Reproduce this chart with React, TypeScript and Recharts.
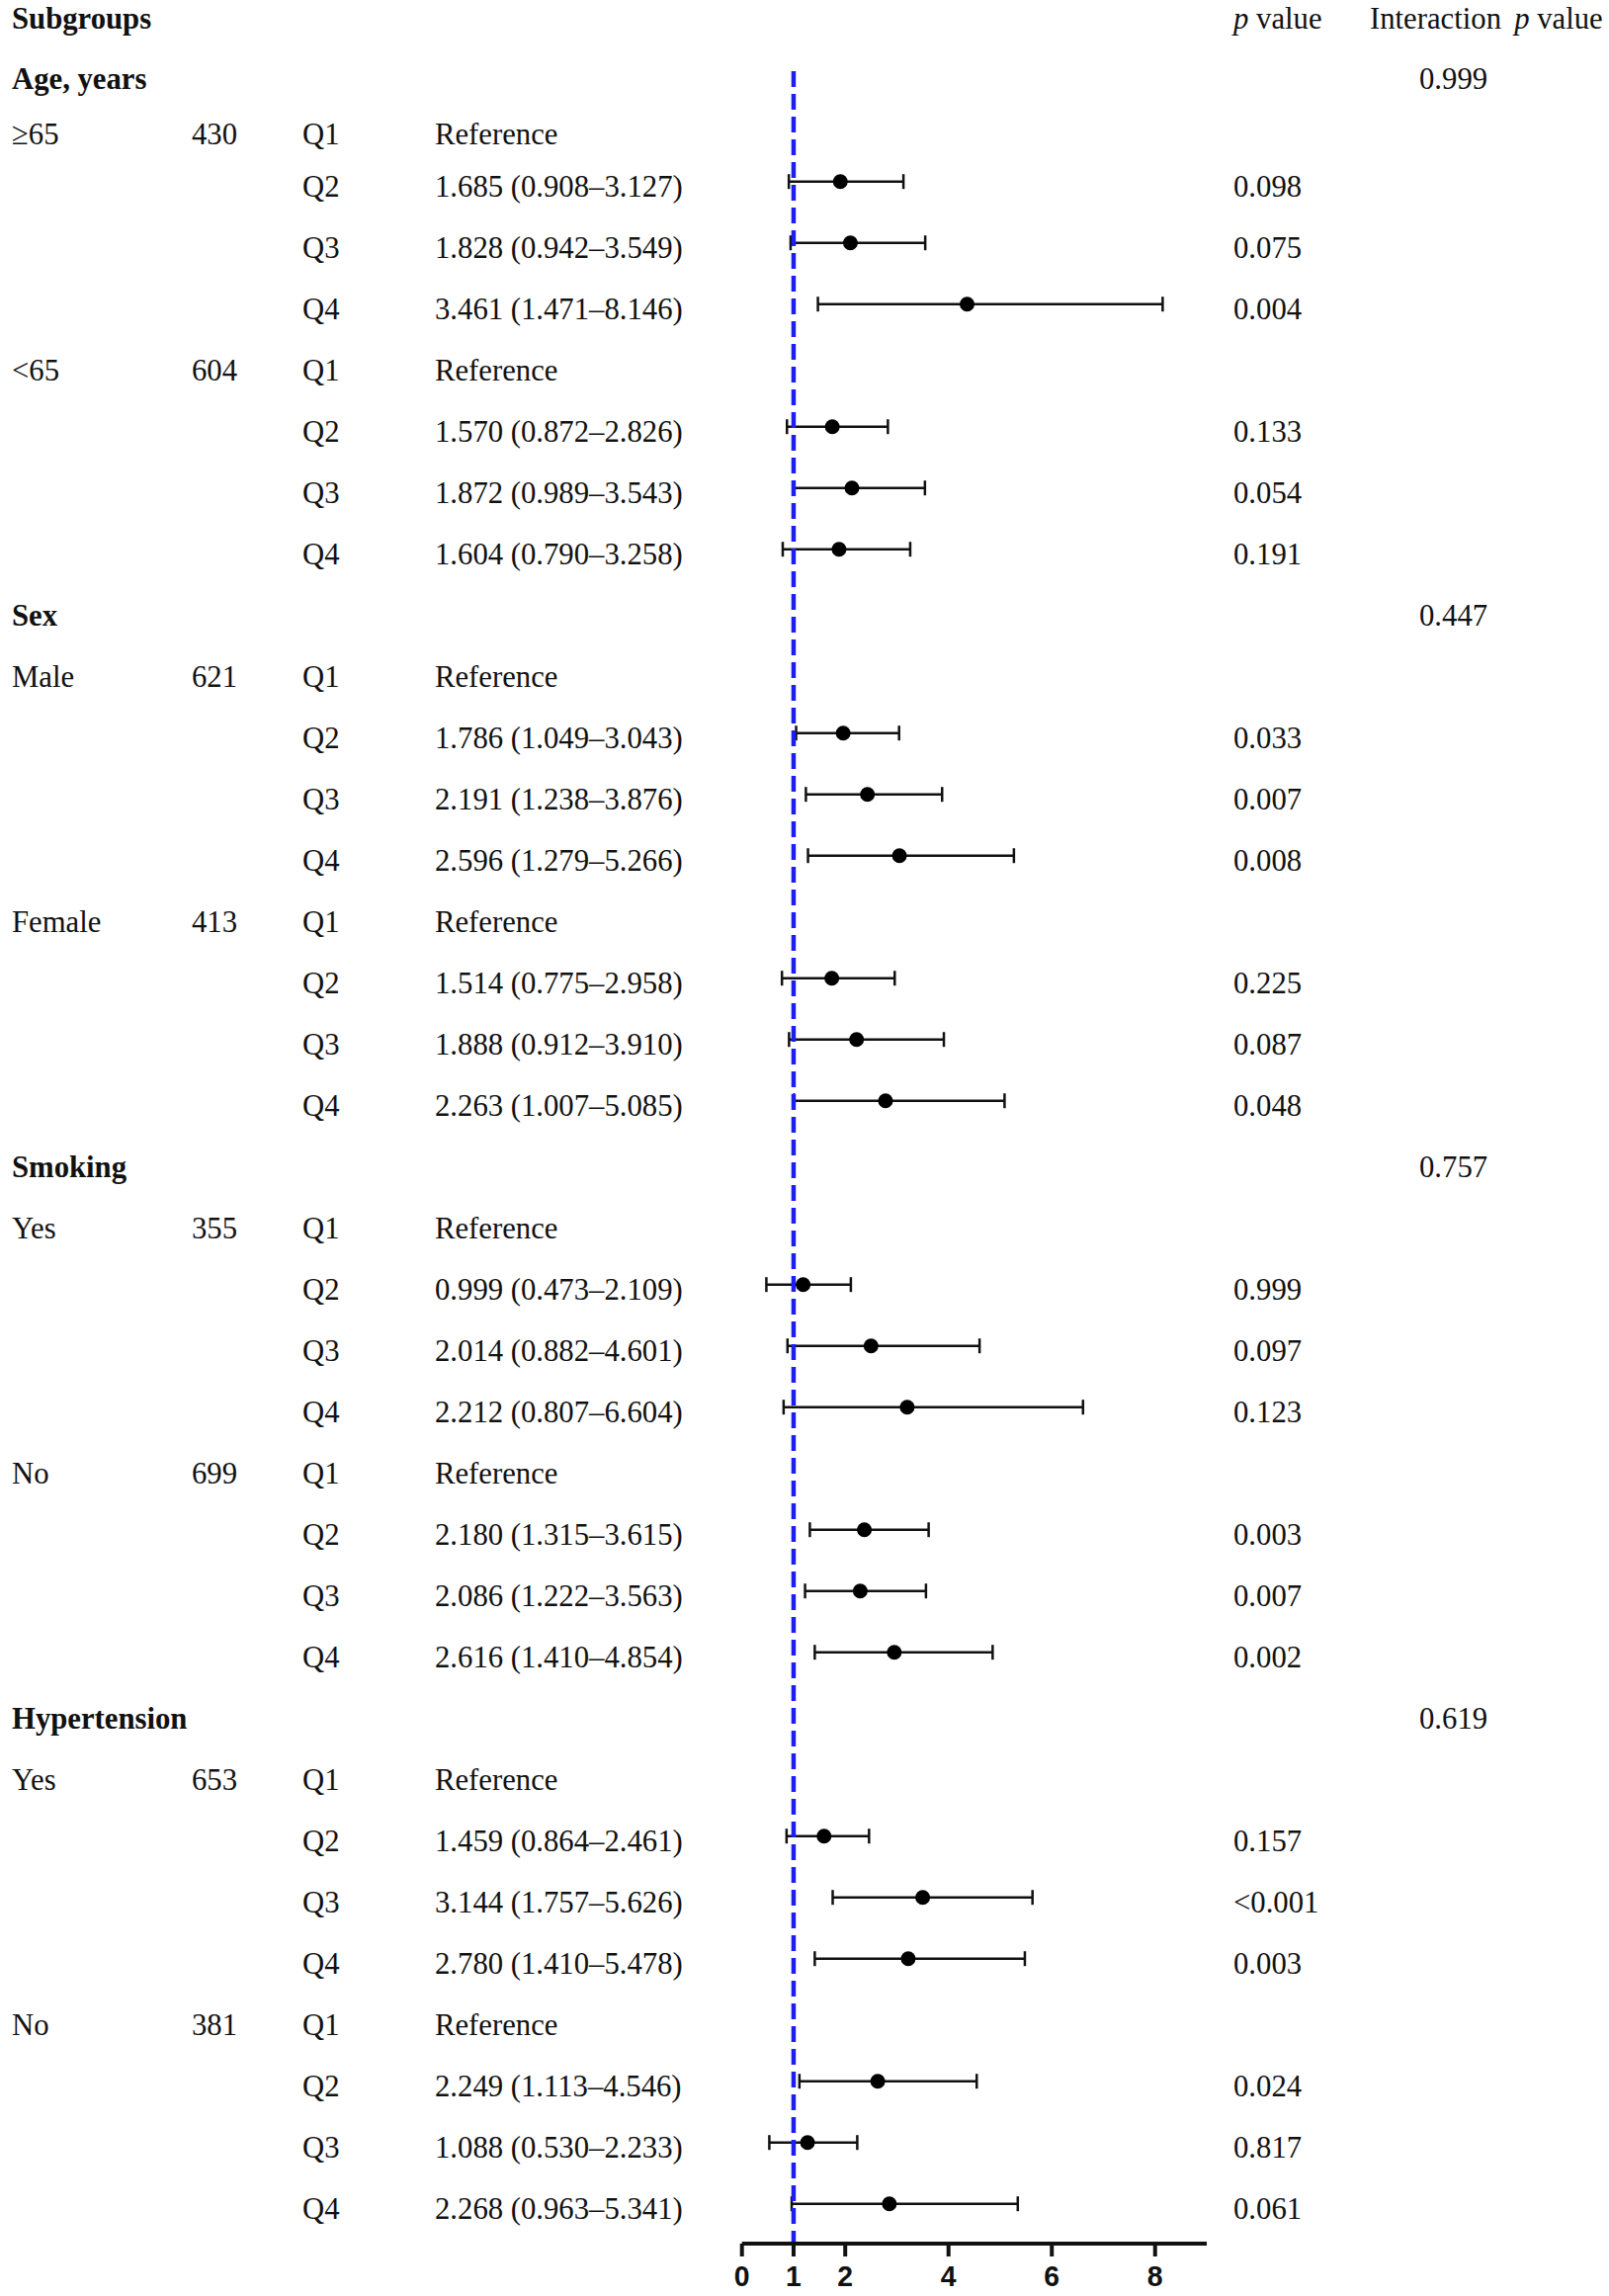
import React from "react";
import { ComposedChart, Scatter, ErrorBar, XAxis, YAxis, ReferenceLine } from "recharts";

// ---- data ----
const groups = ["Age, years", "Sex", "Smoking", "Hypertension"];
const interactionP = ["0.999", "0.447", "0.757", "0.619"];
const subgroups = ["≥65", "<65", "Male", "Female", "Yes", "No", "Yes", "No"];
const subgroupN = [430, 604, 621, 413, 355, 699, 653, 381];
const quartiles = ["Q1", "Q2", "Q3", "Q4"];

// Q2..Q4 for each subgroup
const hr = [
  [1.685, 1.828, 3.461],
  [1.57, 1.872, 1.604],
  [1.786, 2.191, 2.596],
  [1.514, 1.888, 2.263],
  [0.999, 2.014, 2.212],
  [2.18, 2.086, 2.616],
  [1.459, 3.144, 2.78],
  [2.249, 1.088, 2.268],
];
const ciLow = [
  [0.908, 0.942, 1.471],
  [0.872, 0.989, 0.79],
  [1.049, 1.238, 1.279],
  [0.775, 0.912, 1.007],
  [0.473, 0.882, 0.807],
  [1.315, 1.222, 1.41],
  [0.864, 1.757, 1.41],
  [1.113, 0.53, 0.963],
];
const ciHigh = [
  [3.127, 3.549, 8.146],
  [2.826, 3.543, 3.258],
  [3.043, 3.876, 5.266],
  [2.958, 3.91, 5.085],
  [2.109, 4.601, 6.604],
  [3.615, 3.563, 4.854],
  [2.461, 5.626, 5.478],
  [4.546, 2.233, 5.341],
];
const pValue = [
  ["0.098", "0.075", "0.004"],
  ["0.133", "0.054", "0.191"],
  ["0.033", "0.007", "0.008"],
  ["0.225", "0.087", "0.048"],
  ["0.999", "0.097", "0.123"],
  ["0.003", "0.007", "0.002"],
  ["0.157", "<0.001", "0.003"],
  ["0.024", "0.817", "0.061"],
];
// where the markers sit on the axis in the figure (not always at the HR)
const markerX = [
  [1.905, 2.1, 4.36],
  [1.75, 2.13, 1.88],
  [1.96, 2.43, 3.05],
  [1.74, 2.22, 2.78],
  [1.185, 2.5, 3.2],
  [2.37, 2.29, 2.95],
  [1.59, 3.5, 3.22],
  [2.63, 1.27, 2.855],
];
const xTicks = [0, 1, 2, 4, 6, 8];

// ---- layout ----
const W = 1628;
const H = 2323;
const serif = "'Liberation Serif', 'Times New Roman', serif";
const sans = "'Liberation Sans', Arial, sans-serif";
const FS = 32.5;
const SX = 0.945; // glyphs in the figure are a little narrower than Times
const INK = "#111";
const COL = { name: 12, nEnd: 240, q: 306, hr: 440, p: 1248, interHead: 1386, inter: 1436 };
const Y_MIN = 0.037;
const Y_MAX = 36.65;
const REF_TOP = 1.2;
const headPos = [0.255, 1.239, 2.142];

const fmt = (v: number) => v.toFixed(3);

type Row = {
  kind: "head" | "group" | "ref" | "est";
  pos: number;
  label?: string;
  n?: number;
  q?: string;
  text?: string;
  p?: string;
  inter?: string;
};

const rows: Row[] = [{ kind: "head", pos: 0 }];
const points: { x: number; y: number; err: number[] }[] = [];
groups.forEach((g, gi) => {
  rows.push({ kind: "group", pos: 0, label: g, inter: interactionP[gi] });
  [gi * 2, gi * 2 + 1].forEach((s) => {
    rows.push({ kind: "ref", pos: 0, label: subgroups[s], n: subgroupN[s], q: quartiles[0], text: "Reference" });
    for (let k = 0; k < 3; k++) {
      rows.push({
        kind: "est",
        pos: 0,
        q: quartiles[k + 1],
        text: `${fmt(hr[s][k])} (${fmt(ciLow[s][k])}–${fmt(ciHigh[s][k])})`,
        p: pValue[s][k],
      });
      const i = rows.length - 1;
      const m = markerX[s][k];
      points.push({ x: m, y: i, err: [m - ciLow[s][k], ciHigh[s][k] - m] });
    }
  });
});
rows.forEach((r, i) => {
  r.pos = i < 3 ? headPos[i] : i;
});
const rowByPos = new Map(rows.map((r) => [r.pos, r]));

function RowTick(props: any) {
  const { y, payload } = props;
  const row = rowByPos.get(payload.value);
  if (!row) return null;
  const base = y + 15.5;
  const t = (x: number, s: React.ReactNode, bold = false, anchor = "start") => (
    <text
      transform={`translate(${x},${base}) scale(${SX},1)`}
      fontFamily={serif}
      fontSize={FS}
      fontWeight={bold ? 700 : 400}
      fill={INK}
      textAnchor={anchor}
    >
      {s}
    </text>
  );
  if (row.kind === "head") {
    return (
      <g>
        {t(COL.name, "Subgroups", true)}
        {t(
          COL.p,
          <>
            <tspan fontStyle="italic">p</tspan> value
          </>
        )}
        {t(
          COL.interHead,
          <>
            Interaction
            <tspan dx={14} fontStyle="italic">p</tspan> value
          </>
        )}
      </g>
    );
  }
  if (row.kind === "group") {
    return (
      <g>
        {t(COL.name, row.label, true)}
        {t(COL.inter, row.inter)}
      </g>
    );
  }
  return (
    <g>
      {row.kind === "ref" && t(COL.name, row.label)}
      {row.kind === "ref" && t(COL.nEnd, String(row.n), false, "end")}
      {t(COL.q, row.q)}
      {t(COL.hr, row.text)}
      {row.p && t(COL.p, row.p)}
    </g>
  );
}

function AxisTick(props: any) {
  const { x, y, payload } = props;
  return (
    <text
      transform={`translate(${x},${y + 28}) scale(${SX},1)`}
      textAnchor="middle"
      fontFamily={sans}
      fontSize={30}
      fontWeight={700}
      fill={INK}
    >
      {payload.value}
    </text>
  );
}

const dotShape = (p: any) => <circle cx={p.cx} cy={p.cy} r={7.5} fill="#000" />;

export default function App() {
  return (
    <div style={{ position: "absolute", left: 0, top: 0, width: W, height: H, background: "#fff" }}>
      <ComposedChart width={W} height={H} margin={{ top: 0, right: 407, bottom: 0, left: 0 }}>
        <XAxis
          type="number"
          dataKey="x"
          domain={[0, 9]}
          ticks={xTicks}
          interval={0}
          allowDataOverflow
          height={53}
          axisLine={{ stroke: INK, strokeWidth: 4 }}
          tickLine={{ stroke: INK, strokeWidth: 4 }}
          tickSize={13}
          tickMargin={2}
          tick={(p: any) => <AxisTick {...p} />}
        />
        <YAxis
          type="number"
          dataKey="y"
          domain={[Y_MIN, Y_MAX]}
          reversed
          allowDataOverflow
          ticks={rows.map((r) => r.pos)}
          interval={0}
          width={750.7}
          axisLine={false}
          tickLine={false}
          tick={(p: any) => <RowTick {...p} />}
        />
        <Scatter data={points} isAnimationActive={false} shape={dotShape}>
          <ErrorBar dataKey="err" direction="x" width={7.5} stroke={INK} strokeWidth={2.5} isAnimationActive={false} />
        </Scatter>
        <ReferenceLine
          segment={[
            { x: 1, y: REF_TOP },
            { x: 1, y: Y_MAX },
          ]}
          stroke="#1e1ef0"
          strokeWidth={4.5}
          strokeDasharray="16 7"
          ifOverflow="visible"
        />
      </ComposedChart>
    </div>
  );
}
